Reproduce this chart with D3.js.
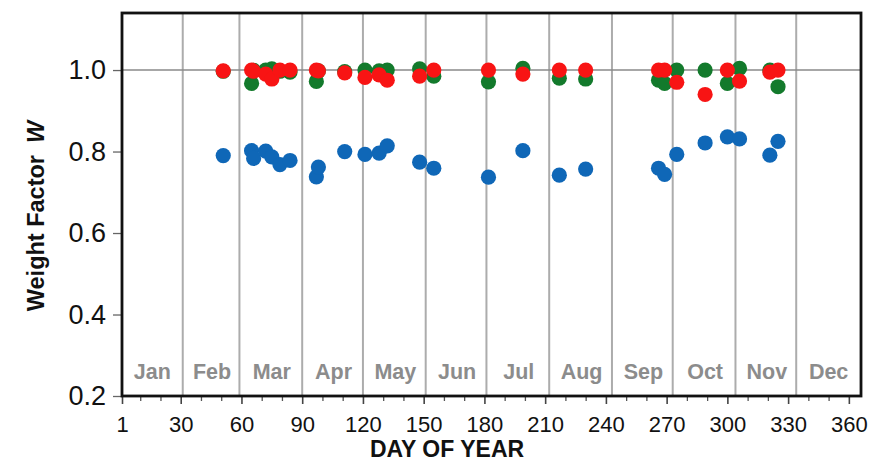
<!DOCTYPE html>
<html>
<head>
<meta charset="utf-8">
<script src="https://cdn.jsdelivr.net/npm/d3@7"></script>
<style>
  html, body { margin: 0; padding: 0; background: #fff; }
  svg { display: block; }
</style>
</head>
<body>
<svg id="chart" width="869" height="461"></svg>
<script>
// Sampling days (day of year) shared by the three series
const days = [51, 65, 66, 72, 75, 79, 84, 97, 98, 111, 121, 128, 132, 148, 155,
              182, 199, 217, 230, 266, 269, 275, 289, 300, 306, 321, 325];

// Weight factor W per series
const weightBlue = [0.790, 0.802, 0.783, 0.801, 0.787, 0.768, 0.778, 0.738, 0.762, 0.800,
                    0.793, 0.796, 0.814, 0.774, 0.759, 0.737, 0.802, 0.742, 0.757,
                    0.759, 0.744, 0.793, 0.821, 0.836, 0.831, 0.791, 0.825];
const weightGreen = [0.997, 0.967, 0.999, 1.000, 1.003, 0.997, 0.995, 0.972, 0.998, 0.996,
                     1.000, 0.998, 1.000, 1.003, 0.985, 0.971, 1.004, 0.980, 0.978,
                     0.975, 0.967, 1.000, 1.000, 0.967, 1.004, 1.000, 0.959];
const weightRed = [0.998, 1.000, 0.997, 0.990, 0.978, 1.000, 1.000, 1.000, 0.998, 0.993,
                   0.982, 0.988, 0.975, 0.985, 1.000, 1.000, 0.990, 1.000, 1.000,
                   1.000, 1.000, 0.970, 0.940, 1.000, 0.973, 0.995, 1.000];

// Axis ticks and month bands
const xMajorTicks = [1, 30, 60, 90, 120, 150, 180, 210, 240, 270, 300, 330, 360];
const xMinorTicks = [10, 20, 40, 50, 70, 80, 100, 110, 130, 140, 160, 170, 190, 200,
                     220, 230, 250, 260, 280, 290, 310, 320, 340, 350];
const yTicks = [0.2, 0.4, 0.6, 0.8, 1.0];
const months = ["Jan", "Feb", "Mar", "Apr", "May", "Jun", "Jul", "Aug", "Sep", "Oct", "Nov", "Dec"];
const monthEnds = [31, 59, 90, 120, 151, 181, 212, 243, 273, 304, 334, 365];

const svg = d3.select("#chart");
const plotLeft = 122, plotRight = 861, plotTop = 13, plotBottom = 396;

const x = d3.scaleLinear().domain([1, 366]).range([plotLeft, plotRight]);
const y = d3.scaleLinear().domain([0.2, 1.14]).range([plotBottom, plotTop]);

const font = "'Liberation Sans', Arial, sans-serif";

// Month boundary grid lines
svg.append("g").selectAll("line")
  .data(monthEnds.slice(0, 11))
  .join("line")
  .attr("x1", d => x(d)).attr("x2", d => x(d))
  .attr("y1", plotTop).attr("y2", plotBottom)
  .attr("stroke", "#acacac").attr("stroke-width", 2);

// Reference line at W = 1
svg.append("line")
  .attr("x1", plotLeft).attr("x2", plotRight)
  .attr("y1", y(1)).attr("y2", y(1))
  .attr("stroke", "#8a8a8a").attr("stroke-width", 1.6);

// Month labels, centred in each month
svg.append("g").selectAll("text")
  .data(months)
  .join("text")
  .attr("x", (d, i) => x(((i === 0 ? 0 : monthEnds[i - 1]) + monthEnds[i]) / 2 + 0.5))
  .attr("y", 379)
  .attr("text-anchor", "middle")
  .attr("font-family", font).attr("font-weight", "bold").attr("font-size", 21.5)
  .attr("fill", "#8c8c8c")
  .text(d => d);

// Points
const series = [
  { values: weightBlue, color: "#0f67b7" },
  { values: weightGreen, color: "#137a2c" },
  { values: weightRed, color: "#f81414" }
];
series.forEach(s => {
  svg.append("g").selectAll("circle")
    .data(days.map((d, i) => [d, s.values[i]]))
    .join("circle")
    .attr("cx", d => x(d[0]))
    .attr("cy", d => y(d[1]))
    .attr("r", 7.6)
    .attr("fill", s.color);
});

// Y axis
const yAxis = svg.append("g")
  .attr("transform", `translate(${plotLeft},0)`)
  .call(d3.axisLeft(y).tickValues(yTicks).tickFormat(d3.format(".1f")).tickSize(9).tickPadding(7));
yAxis.select(".domain").remove();
yAxis.selectAll(".tick line").attr("stroke", "#666").attr("stroke-width", 1.3);
yAxis.selectAll("text").attr("font-family", font).attr("font-size", 27).attr("fill", "#111");

// X axis: minor ticks then labelled major ticks
const xMinor = svg.append("g")
  .attr("transform", `translate(0,${plotBottom})`)
  .call(d3.axisBottom(x).tickValues(xMinorTicks).tickFormat("").tickSize(5));
xMinor.select(".domain").remove();
xMinor.selectAll(".tick line").attr("stroke", "#555").attr("stroke-width", 1.3);

const xAxis = svg.append("g")
  .attr("transform", `translate(0,${plotBottom})`)
  .call(d3.axisBottom(x).tickValues(xMajorTicks).tickFormat(d3.format("d")).tickSize(8).tickPadding(12));
xAxis.select(".domain").remove();
xAxis.selectAll(".tick line").attr("stroke", "#444").attr("stroke-width", 1.6);
xAxis.selectAll("text").attr("font-family", font).attr("font-size", 22).attr("fill", "#111");

// Plot frame
svg.append("rect")
  .attr("x", plotLeft).attr("y", plotTop)
  .attr("width", plotRight - plotLeft).attr("height", plotBottom - plotTop)
  .attr("fill", "none").attr("stroke", "#111").attr("stroke-width", 2.8);

// Axis titles
svg.append("text")
  .attr("x", 447).attr("y", 457)
  .attr("text-anchor", "middle")
  .attr("font-family", font).attr("font-weight", "bold").attr("font-size", 23)
  .attr("fill", "#111")
  .text("DAY OF YEAR");

const yTitle = svg.append("text")
  .attr("transform", "translate(44,216) rotate(-90)")
  .attr("text-anchor", "middle")
  .attr("font-family", font).attr("font-weight", "bold").attr("font-size", 23.5)
  .attr("fill", "#111");
yTitle.append("tspan").text("Weight Factor");
yTitle.append("tspan").attr("dx", 12).attr("font-style", "italic").text("W");
</script>
</body>
</html>
